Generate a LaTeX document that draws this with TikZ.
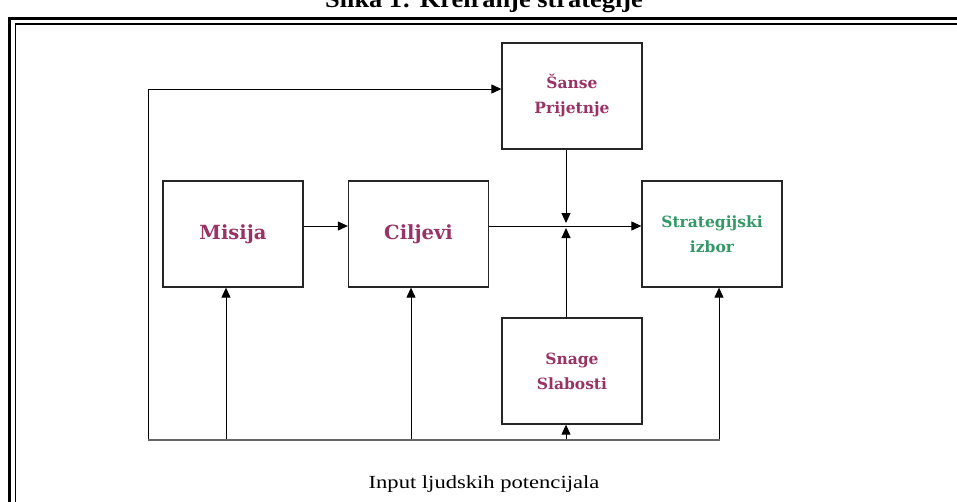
\documentclass[tikz,border=0pt]{standalone}
\usepackage{fontspec}
\setmainfont{Liberation Serif}
\newfontfamily\kutijafont{DejaVu Serif}
\newfontfamily\sirokifont[FakeStretch=1.22]{Liberation Serif}
\newfontfamily\naslovfont[FakeStretch=1.1]{Liberation Serif}
\usetikzlibrary{arrows.meta}
\definecolor{ljubicasta}{HTML}{993366}
\definecolor{zelena}{HTML}{339966}

\begin{document}
\begin{tikzpicture}[x=1pt,y=-1pt,
    kutija/.style={draw=black!85,line width=1.3pt,fill=white,minimum width=140pt,minimum height=106pt,inner sep=0pt,align=center,text=ljubicasta,font=\kutijafont\bfseries\fontsize{15.5}{25}\selectfont},
    strelica/.style={-{Triangle[length=10pt,width=9pt]},line width=1pt}]
    \useasboundingbox (0,0) rectangle (957,501);
    \clip (0,0) rectangle (957,501);

    % naslov i okvir
    \node[anchor=base,font=\naslovfont\bfseries\fontsize{24}{28}\selectfont] (naslov) at (484,7.5) {Slika 1: Kreiranje strategije};
    \draw[line width=3pt] (9.5,520) -- (9.5,18.5) -- (980,18.5);
    \draw[line width=1.2pt] (15.5,520) -- (15.5,24) -- (980,24);

    % kutije
    \node[kutija] (sanse) at (572,96) {Šanse\\Prijetnje};
    \node[kutija,font=\kutijafont\bfseries\fontsize{19.5}{22}\selectfont] (misija) at (233,234) {Misija};
    \node[kutija,font=\kutijafont\bfseries\fontsize{19.5}{22}\selectfont] (ciljevi) at (418.5,234) {Ciljevi};
    \node[kutija,text=zelena] (izbor) at (712,234) {Strategijski\\izbor};
    \node[kutija] (snage) at (572,371) {Snage\\Slabosti};

    % srednja linija
    \coordinate (sred) at (566,226);
    \draw[strelica] (misija.east |- sred) -- (ciljevi.west |- sred);
    \draw[strelica] (ciljevi.east |- sred) -- (izbor.west |- sred);
    \draw[strelica] (sanse.south -| sred) -- ([yshift=3pt]sred);
    \draw[strelica] (snage.north -| sred) -- ([yshift=-2pt]sred);

    % povratna veza
    \coordinate (dolje) at (148,440);
    \coordinate (gore) at (148,89);
    \coordinate (desno) at (720,440);
    \draw[line width=1pt] (dolje) -- (gore);
    \draw[strelica] (gore) -- (gore -| sanse.west);
    \foreach \x/\cilj in {226/misija,411/ciljevi,566/snage,719/izbor}
        \draw[strelica] (\x,440) -- (\x,440 |- \cilj.south);
    \draw[black!60,line width=2pt] (dolje) -- (desno);

    % input
    \node[anchor=base,font=\sirokifont\fontsize{18.5}{22}\selectfont] (input) at (484,488) {Input ljudskih potencijala};
\end{tikzpicture}
\end{document}
